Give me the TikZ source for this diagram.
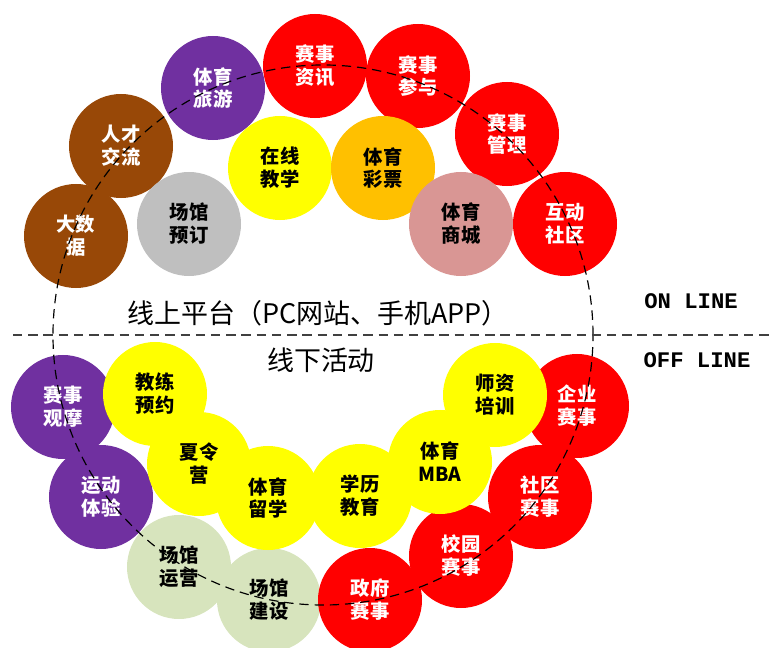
\documentclass[tikz,border=0pt]{standalone}
\usepackage{fontspec}
\newfontfamily\cjk{Noto Sans CJK SC}
\newfontfamily\latinmono{Liberation Mono}
\definecolor{bred}{HTML}{FF0000}
\definecolor{bpurple}{HTML}{7030A0}
\definecolor{bbrown}{HTML}{984807}
\definecolor{bgray}{HTML}{BFBFBF}
\definecolor{byellow}{HTML}{FFFF00}
\definecolor{borange}{HTML}{FFC000}
\definecolor{bpink}{HTML}{D99694}
\definecolor{bgreen}{HTML}{D7E4BD}
\begin{document}
\begin{tikzpicture}[x=0.03cm, y=-0.03cm,
	bubble/.style={circle, minimum size=3.12cm, inner sep=0pt, align=center, font=\cjk\bfseries\fontsize{16.5}{19.6}\selectfont},
	redbub/.style={bubble, fill=bred, text=white},
	purplebub/.style={bubble, fill=bpurple, text=white},
	brownbub/.style={bubble, fill=bbrown, text=white},
	yellowbub/.style={bubble, fill=byellow, text=black},
	graybub/.style={bubble, fill=bgray, text=black},
	orangebub/.style={bubble, fill=borange, text=black},
	pinkbub/.style={bubble, fill=bpink, text=black},
	greenbub/.style={bubble, fill=bgreen, text=black},
	title/.style={font=\cjk\fontsize{23}{26}\selectfont, inner sep=0pt},
	tag/.style={font=\latinmono\bfseries\fontsize{19}{22}\selectfont, inner sep=0pt}]
	
	\useasboundingbox (0,0) rectangle (770,648);
	
	% Online
	\node[redbub] (news) at (315, 66) {赛事\\资讯};
	\node[redbub] (join) at (418, 76) {赛事\\参与};
	\node[redbub] (manage) at (507, 134) {赛事\\管理};
	\node[redbub] (forum) at (565, 224) {互动\\社区};
	\node[purplebub] (tour) at (213, 88) {体育\\旅游};
	\node[brownbub] (talent) at (121, 146) {人才\\交流};
	\node[brownbub] (bigdata) at (76, 236) {大数\\据};
	\node[graybub] (booking) at (189, 224) {场馆\\预订};
	\node[yellowbub] (teach) at (280, 168) {在线\\教学};
	\node[orangebub] (lottery) at (383, 168) {体育\\彩票};
	\node[pinkbub] (shop) at (461, 224) {体育\\商城};
	
	% Offline
	\node[greenbub] (operate) at (179, 567) {场馆\\运营};
	\node[greenbub] (build) at (269, 600) {场馆\\建设};
	\node[purplebub] (watch) at (63, 407) {赛事\\观摩};
	\node[purplebub] (exper) at (101, 497) {运动\\体验};
	\node[redbub] (gov) at (370, 600) {政府\\赛事};
	\node[redbub] (campus) at (461, 556) {校园\\赛事};
	\node[redbub] (commu) at (540, 497) {社区\\赛事};
	\node[redbub] (corp) at (577, 406) {企业\\赛事};
	\node[yellowbub] (coach) at (155, 394) {教练\\预约};
	\node[yellowbub] (camp) at (199, 464) {夏令\\营};
	\node[yellowbub] (abroad) at (268, 498) {体育\\留学};
	\node[yellowbub] (degree) at (360, 496) {学历\\教育};
	\node[yellowbub] (mba) at (440, 462) {体育\\MBA};
	\node[yellowbub] (trainer) at (495, 395) {师资\\培训};
	
	% Labels
	\node[title] (online) at (318, 313) {线上平台（PC网站、手机APP）};
	\node[title] (offline) at (321, 360) {线下活动};
	\node[tag] (ontag) at (691, 301) {ON LINE};
	\node[tag] (offtag) at (697, 360) {OFF LINE};
	
	% Ring and divider
	\node[draw, circle, minimum size=16.2cm, inner sep=0pt, line width=1pt, dash pattern=on 8pt off 5pt] (ring) at (323, 335) {};
	\coordinate (divL) at (13, 335);
	\coordinate (divR) at (770, 335);
	\draw[line width=1pt, black!75, dash pattern=on 8pt off 5pt] (divL) -- (divR);
\end{tikzpicture}
\end{document}
